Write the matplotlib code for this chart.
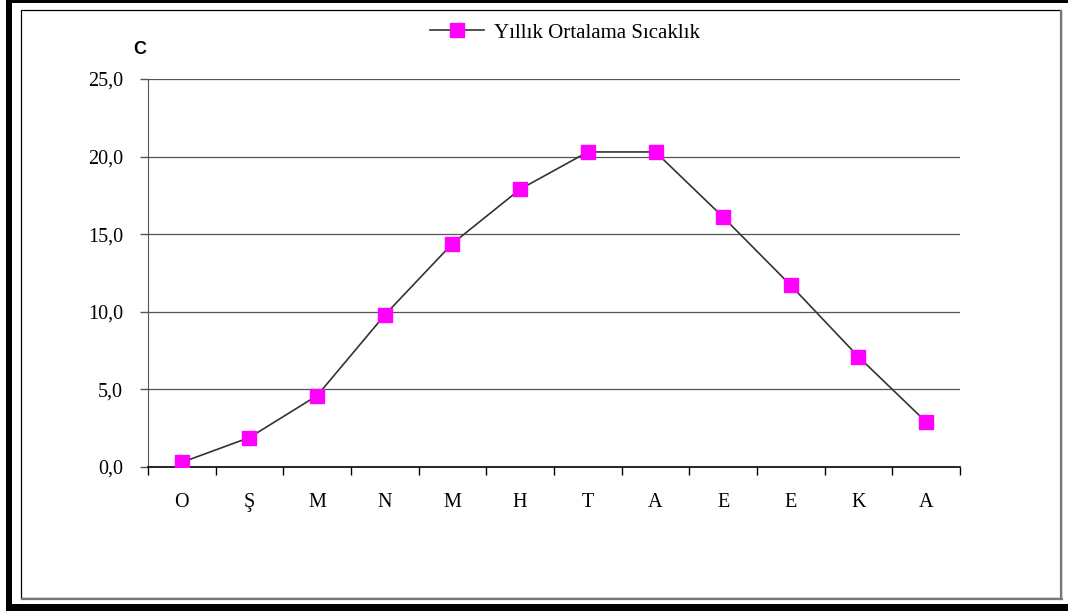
import matplotlib
matplotlib.use("Agg")
import matplotlib.pyplot as plt
from matplotlib.patches import Rectangle
from matplotlib.lines import Line2D

months = ["O", "Ş", "M", "N", "M", "H", "T", "A", "E", "E", "K", "A"]
temps = [0.3, 1.9, 4.6, 9.8, 14.4, 17.9, 20.3, 20.3, 16.1, 11.7, 7.1, 2.9]
yticks = [0, 5, 10, 15, 20, 25]
series_name = "Yıllık Ortalama Sıcaklık"

W, H = 1068, 613
fig = plt.figure(figsize=(W / 100, H / 100), dpi=100)
serif = ["Liberation Serif", "DejaVu Serif"]

# frame: thick outer border + thin inner box
def box(x0, y0, x1, y1, **kw):
    fig.patches.append(Rectangle((x0 / W, 1 - y1 / H), (x1 - x0) / W, (y1 - y0) / H,
                                 transform=fig.transFigure, **kw))

box(6, 0, 1068, 3, color="black", lw=0)
box(6, 0, 12, 611, color="black", lw=0)
box(6, 604, 1068, 611, color="black", lw=0)
box(21, 10, 1061, 598, fill=False, ec="black", lw=0.9)
fig.add_artist(Line2D([1061 / W, 1061 / W], [1 - 11 / H, 1 - 599 / H], color="#777777", lw=1.6))
fig.add_artist(Line2D([22 / W, 1062 / W], [1 - 599 / H, 1 - 599 / H], color="#777777", lw=1.6))

# plot area
ax = fig.add_axes([148 / W, 1 - 467 / H, (960 - 148) / W, (467 - 79) / H])
x = list(range(len(months)))
line, = ax.plot(x, temps, color="#333333", lw=1.2, marker="s", markersize=9.5,
                markerfacecolor="#FF00FF", markeredgecolor="#FF00FF", label=series_name, zorder=3)

ax.set_xlim(-0.5, len(months) - 0.5)
ax.set_ylim(0, 25)
ax.set_yticks(yticks)
ax.set_yticklabels([f"{v:.1f}".replace(".", ",") for v in yticks], family=serif, fontsize=14.5)
ax.set_xticks(x)
ax.set_xticklabels(months, family=serif, fontsize=14.5)
ax.tick_params(axis="x", length=0, pad=19)
ax.set_xticks([i - 0.5 for i in range(len(months) + 1)], minor=True)
ax.tick_params(axis="x", which="minor", length=6, width=1, color="black", direction="out")
ax.tick_params(axis="y", length=6, width=1, color="#555555", pad=12)

for v in yticks[1:]:
    ax.axhline(v, color="#555555", lw=0.9, zorder=1)
for s in ["top", "right"]:
    ax.spines[s].set_visible(False)
ax.spines["left"].set_color("#555555")
ax.spines["bottom"].set_color("black")
ax.spines["bottom"].set_linewidth(1.2)

fig.text(140 / W, 1 - 49 / H, "C", fontsize=13, fontweight="bold", family="Liberation Sans",
         ha="center", va="center")

fig.legend(handles=[line], loc="center", bbox_to_anchor=(565 / W, 1 - 33 / H),
           frameon=False, prop={"family": serif, "size": 15}, handlelength=2.6,
           handletextpad=0.5, borderaxespad=0)

fig.savefig("out.png", dpi=100)
